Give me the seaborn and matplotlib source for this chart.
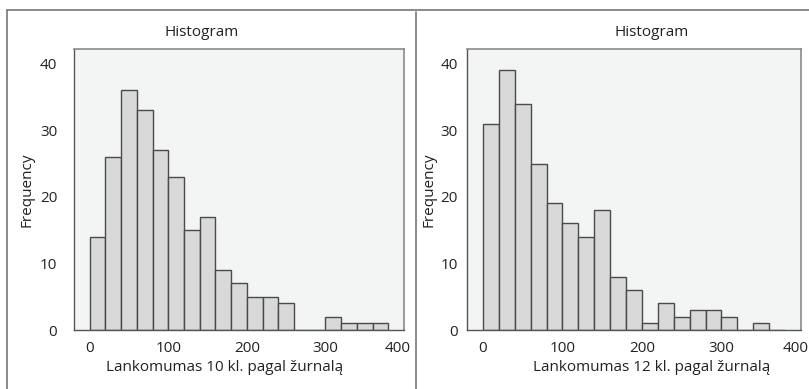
import numpy as np
import pandas as pd
import matplotlib
matplotlib.use("Agg")
import matplotlib.pyplot as plt
from matplotlib.lines import Line2D
from matplotlib.transforms import ScaledTranslation
import seaborn as sns

# bin edges (width 20) and counts
bin_edges = list(range(0, 381, 20))
bin_left = np.array(bin_edges[:-1])
counts_10 = [14, 26, 36, 33, 27, 23, 15, 17, 9, 7, 5, 5, 4, 0, 0, 2, 1, 1, 1]
counts_12 = [31, 39, 34, 25, 19, 16, 14, 18, 8, 6, 1, 4, 2, 3, 3, 2, 0, 1, 0]
titles = ["Histogram", "Histogram"]
xlabels = ["Lankomumas 10 kl. pagal žurnalą", "Lankomumas 12 kl. pagal žurnalą"]
x_ticks = [0, 100, 200, 300, 400]
y_ticks = [0, 10, 20, 30, 40]

sns.set_style("white")
plt.rcParams["font.family"] = ["Open Sans", "DejaVu Sans"]

W, H = 809, 389
fig = plt.figure(figsize=(W / 100, H / 100), dpi=100)

# axes rectangles in pixels: left, top, right, bottom
boxes = [(74, 49, 404, 330), (467, 49, 801, 330)]
series = [counts_10, counts_12]
last_label_shift = [-6, -5]
ylabel_right_px = [34, 437]
ytick_pad = [8, 2.5]
title_center_px = [202, 652]
xlabel_center_px = [225, 652]

for i, ((l, t, r, b), counts) in enumerate(zip(boxes, series)):
    ax = fig.add_axes([l / W, (H - b) / H, (r - l) / W, (b - t) / H])
    df = pd.DataFrame({"value": bin_left + 10, "count": counts})
    sns.histplot(data=df, x="value", weights="count", bins=bin_edges,
                 color="#d9d9d9", edgecolor="#4a4a4a", linewidth=1.0,
                 alpha=1, ax=ax)
    ax.set_facecolor("#f3f5f4")
    ax.set_xlim(-20, 400)
    ax.set_ylim(0, 42.2)
    ax.set_xticks(x_ticks)
    ax.set_yticks(y_ticks)
    ax.tick_params(axis="both", direction="out", length=4, width=0.8,
                   color="#666666", labelsize=11, labelcolor="#222222")
    ax.tick_params(axis="x", pad=4)
    ax.tick_params(axis="y", pad=ytick_pad[i])
    # the "400" label sits a little left of its tick in the reference
    lab = ax.get_xticklabels()[-1]
    lab.set_transform(lab.get_transform()
                      + ScaledTranslation(last_label_shift[i] / 100, 0, fig.dpi_scale_trans))
    for side in ["top", "right"]:
        ax.spines[side].set_color("#8a8a8a")
        ax.spines[side].set_linewidth(1.2)
    for side in ["left", "bottom"]:
        ax.spines[side].set_color("#555555")
        ax.spines[side].set_linewidth(1.0)
    ax.set_title(titles[i], fontsize=11, color="#222222", pad=9,
                 x=(title_center_px[i] - l) / (r - l))
    ax.set_xlabel(xlabels[i], fontsize=11, color="#222222", labelpad=3)
    ax.xaxis.set_label_coords((xlabel_center_px[i] - l) / (r - l), -0.105)
    ax.set_ylabel("Frequency", fontsize=11, color="#222222")
    ax.yaxis.set_label_coords((ylabel_right_px[i] - l) / (r - l), 0.5)

# outer frame and divider between the two panels
def px_line(x0, y0, x1, y1, lw=1.2, c="#777777"):
    fig.add_artist(Line2D([x0 / W, x1 / W], [1 - y0 / H, 1 - y1 / H],
                          color=c, linewidth=lw))

px_line(7, 10, W, 10)
px_line(7, 10, 7, H)
px_line(416, 12, 416, H)

fig.savefig("out.png", dpi=100, facecolor="white")
